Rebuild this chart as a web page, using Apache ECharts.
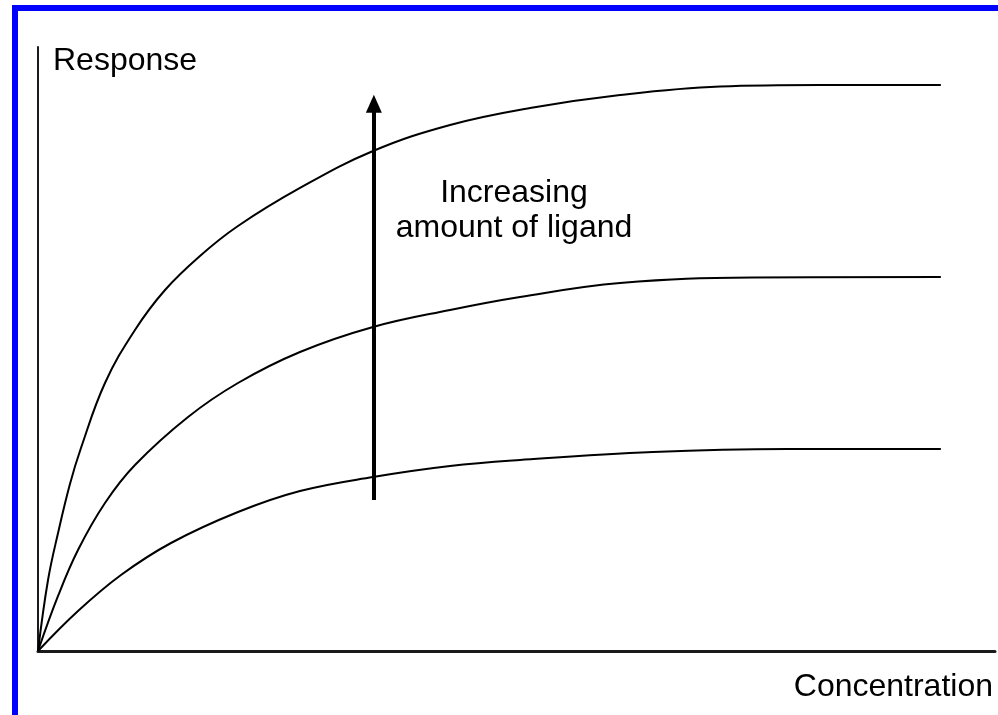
<!DOCTYPE html>
<html>
<head>
<meta charset="utf-8">
<script src="https://cdn.jsdelivr.net/npm/echarts@6/dist/echarts.min.js"></script>
<style>
html,body{margin:0;padding:0;background:#fff;}
#chart{width:998px;height:715px;}
</style>
</head>
<body>
<div id="chart"></div>
<script>
// Concentration (x) and Response (y) readings for each curve
var highConc = [0, 1.11, 2.22, 3.54, 4.76, 7.42, 10.74, 14.07, 17.94, 22.15, 29.02, 37.11, 45.64, 54.5, 64.47, 75.55, 86.62, 100];
var highResp = [0, 11.75, 19.54, 27.65, 33.61, 44.37, 53.15, 59.77, 65.4, 70.36, 76.66, 82.78, 87.09, 89.9, 92.05, 93.46, 93.71, 93.71];
var midConc  = [0, 2.22, 4.43, 7.42, 10.74, 16.62, 22.15, 29.02, 37.11, 45.64, 53.39, 64.47, 79.2, 100];
var midResp  = [0, 9.11, 16.72, 24.5, 30.79, 38.74, 44.37, 49.5, 53.64, 56.46, 58.61, 60.93, 61.84, 61.92];
var lowConc  = [0, 4.43, 9.19, 14.73, 22.15, 29.02, 37.11, 45.64, 53.39, 68.12, 82.96, 100];
var lowResp  = [0, 6.62, 12.58, 17.88, 23.01, 26.49, 28.81, 30.63, 31.62, 32.95, 33.44, 33.44];
// Arrow: concentration position and response range
var arrowConc = 37.2;
var arrowFrom = 25.0;
var arrowTo = 90.6;
var xLabel = 'Concentration';
var yLabel = 'Response';
var noteText = 'Increasing\namount of ligand';

function pairs(xs, ys){ return xs.map(function(x,i){ return [x, ys[i]]; }); }

var chart = echarts.init(document.getElementById('chart'), null, {renderer:'canvas'});
var curveStyle = {color:'#000', width:2};
var font = '"Liberation Sans", Arial, Helvetica, sans-serif';
function curve(xs, ys){
  return {type:'line', data:pairs(xs, ys), smooth:0.4, showSymbol:false, lineStyle:curveStyle, silent:true};
}
chart.setOption({
  animation:false,
  backgroundColor:'#fff',
  grid:{left:38, right:3, top:47, bottom:64},
  xAxis:{type:'value', min:0, max:106,
    axisLine:{show:true, lineStyle:{color:'#1a1a1a', width:3}},
    axisTick:{show:false}, axisLabel:{show:false}, splitLine:{show:false}},
  yAxis:{type:'value', min:0, max:100,
    axisLine:{show:true, onZero:false, lineStyle:{color:'#1a1a1a', width:2}},
    axisTick:{show:false}, axisLabel:{show:false}, splitLine:{show:false}},
  series:[
    curve(lowConc, lowResp),
    curve(midConc, midResp),
    curve(highConc, highResp),
    {type:'line', data:[], silent:true,
      markLine:{silent:true, symbol:['none','triangle'], symbolSize:[16,18],
        label:{show:false}, lineStyle:{color:'#000', width:4, type:'solid'},
        emphasis:{disabled:true},
        data:[[{coord:[arrowConc, arrowFrom]},{coord:[arrowConc, arrowTo]}]]}}
  ],
  graphic:[
    {type:'rect', shape:{x:15, y:8, width:1000, height:800}, style:{fill:'none', stroke:'#0000ff', lineWidth:6}, silent:true},
    {type:'text', left:53, top:45, style:{text:yLabel, font:'32px ' + font, fill:'#000'}},
    {type:'text', right:5, top:671, style:{text:xLabel, font:'32px ' + font, fill:'#000'}},
    {type:'text', x:514, y:176, style:{text:noteText, font:'32px ' + font, fill:'#000', align:'center', lineHeight:35}}
  ]
});
</script>
</body>
</html>
